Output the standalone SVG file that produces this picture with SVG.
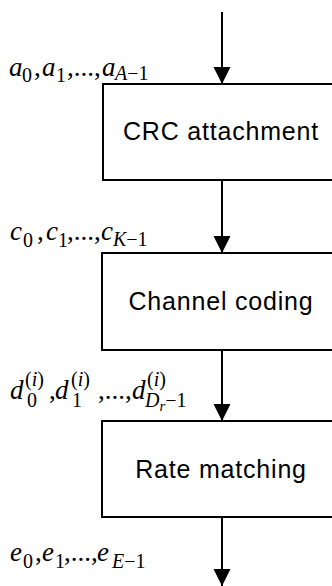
<svg xmlns="http://www.w3.org/2000/svg" width="332" height="586" viewBox="0 0 332 586">
<defs>
<marker id="ah" markerUnits="userSpaceOnUse" markerWidth="18" markerHeight="18" refX="17" refY="8.5" orient="auto">
<path d="M0,0 L17,8.5 L0,17 Z" fill="#000"/>
</marker>
<style>
.box{fill:#fff;stroke:#000;stroke-width:2}
.lbl{font-family:"Liberation Sans",Arial,sans-serif;font-size:25px;letter-spacing:0.8px;fill:#000;text-anchor:middle}
.m{font-family:"Liberation Serif","Times New Roman",serif;font-size:27px;fill:#000;font-style:italic}
.u{font-style:normal}
.s{font-size:20px}
.r{font-size:15px}
.conn{stroke:#000;stroke-width:2;fill:none;marker-end:url(#ah)}
</style>
</defs>
<rect width="332" height="586" fill="#fff"/>
<g id="connectors">
<line class="conn" x1="222" y1="12" x2="222" y2="84"/>
<line class="conn" x1="222" y1="180" x2="222" y2="253"/>
<line class="conn" x1="222" y1="350" x2="222" y2="421"/>
<line class="conn" x1="222" y1="517" x2="222" y2="586"/>
</g>
<g id="crc">
<rect class="box" x="103" y="84" width="240" height="96"/>
<text class="lbl" x="221" y="140">CRC attachment</text>
</g>
<g id="coding">
<rect class="box" x="102" y="253" width="240" height="97"/>
<text class="lbl" x="221" y="310">Channel coding</text>
</g>
<g id="ratematch">
<rect class="box" x="102" y="421" width="240" height="96"/>
<text class="lbl" x="221" y="478">Rate matching</text>
</g>
<g id="label-a">
<text class="m"><tspan x="9" y="76">a</tspan><tspan class="s u" x="22" y="82">0</tspan><tspan class="u" x="34" y="76">,</tspan><tspan x="42" y="76">a</tspan><tspan class="s u" x="56" y="82">1</tspan><tspan class="u" x="67" y="76">,...,</tspan><tspan x="102" y="76">a</tspan><tspan class="s" x="115" y="80">A</tspan><tspan class="s u">−1</tspan></text>
</g>
<g id="label-c">
<text class="m"><tspan x="10" y="240">c</tspan><tspan class="s u" x="23" y="247">0</tspan><tspan class="u" x="37" y="240">,</tspan><tspan x="46" y="240">c</tspan><tspan class="s u" x="58" y="247">1</tspan><tspan class="u" x="67" y="240">,...,</tspan><tspan x="101" y="240">c</tspan><tspan class="s" x="113" y="246">K</tspan><tspan class="s u">−1</tspan></text>
</g>
<g id="label-d">
<text class="m"><tspan x="10" y="399">d</tspan><tspan class="s u" x="25" y="386">(</tspan><tspan class="s">i</tspan><tspan class="s u">)</tspan><tspan class="s u" x="27" y="407">0</tspan><tspan class="u" x="49" y="399">,</tspan><tspan x="55" y="399">d</tspan><tspan class="s u" x="71" y="386">(</tspan><tspan class="s">i</tspan><tspan class="s u">)</tspan><tspan class="s u" x="72" y="407">1</tspan><tspan class="u" x="98" y="399">,...,</tspan><tspan x="132" y="399">d</tspan><tspan class="s u" x="147" y="386">(</tspan><tspan class="s">i</tspan><tspan class="s u">)</tspan><tspan class="s" x="145" y="407">D</tspan><tspan class="r" y="411">r</tspan><tspan class="s u" y="407">−1</tspan></text>
</g>
<g id="label-e">
<text class="m"><tspan x="10" y="561">e</tspan><tspan class="s u" x="23" y="568">0</tspan><tspan class="u" x="35" y="561">,</tspan><tspan x="42" y="561">e</tspan><tspan class="s u" x="55" y="568">1</tspan><tspan class="u" x="64" y="561">,...,</tspan><tspan x="97" y="561">e</tspan><tspan class="s" x="112" y="568">E</tspan><tspan class="s u">−1</tspan></text>
</g>
</svg>
